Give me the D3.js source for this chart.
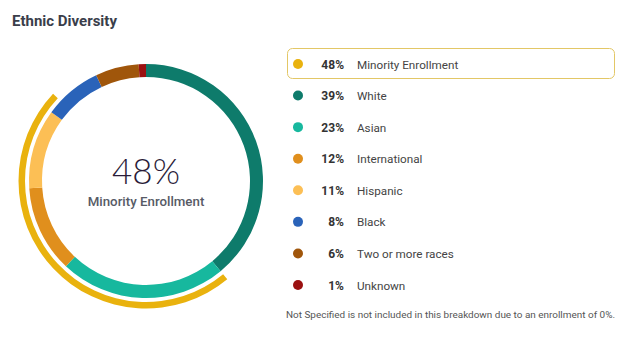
<!DOCTYPE html>
<html><head><meta charset="utf-8">
<script src="https://cdn.jsdelivr.net/npm/d3@7"></script>
<style>
html,body{margin:0;padding:0;background:#fff;}
svg{display:block;font-family:Roboto, "Noto Sans", sans-serif;}
</style></head>
<body>
<svg id="chart" width="640" height="337"></svg>
<script>
const categories = ["White","Asian","International","Hispanic","Black","Two or more races","Unknown"];
const values = [39,23,12,11,8,6,1];
const colors = ["#0e7b6b","#17b89e","#e08f1d","#fcbf55","#2a63b9","#a0560b","#9b1111"];
const minorityLabel = "Minority Enrollment";
const minorityValue = 48;
const minorityColor = "#e9b20e";
const legendLabels = ["Minority Enrollment","White","Asian","International","Hispanic","Black","Two or more races","Unknown"];
const legendValues = [48,39,23,12,11,8,6,1];
const legendColors = [minorityColor].concat(colors);
const footnote = "Not Specified is not included in this breakdown due to an enrollment of 0%.";

const svg = d3.select("#chart");
svg.append("text").attr("x",12).attr("y",26)
  .attr("font-size",15).attr("font-weight",700).attr("fill","#3a3e4a")
  .text("Ethnic Diversity");

const cx = 146, cy = 181;
const g = svg.append("g").attr("transform",`translate(${cx},${cy})`);
const total = d3.sum(values);
const angle = d3.scaleLinear().domain([0,total]).range([0,2*Math.PI]);
const pie = d3.pie().sort(null).value(d=>d)(values);
const arc = d3.arc().innerRadius(104).outerRadius(117);
g.selectAll("path.seg").data(pie).enter().append("path")
  .attr("class","seg").attr("d",arc).attr("fill",(d,i)=>colors[i]);

// minority outer arc
const start = angle(values[0]);
g.append("path")
  .attr("d", d3.arc().innerRadius(121).outerRadius(127.5)({startAngle:start, endAngle:start+angle(minorityValue)}))
  .attr("fill", minorityColor);

g.append("text").attr("x",0).attr("y",3).attr("text-anchor","middle")
  .attr("font-family","Lato, 'Open Sans', sans-serif").attr("font-weight",300)
  .attr("font-size",35).attr("fill","#2a1b38").text(minorityValue+"%");
g.append("text").attr("x",0).attr("y",25).attr("text-anchor","middle")
  .attr("font-size",13.3).attr("font-weight",500).attr("fill","#575b66").text(minorityLabel);

// legend
const y = d3.scalePoint().domain(d3.range(legendLabels.length)).range([64,285]);
svg.append("rect").attr("x",287.5).attr("y",48.5).attr("width",327).attr("height",30)
  .attr("rx",5).attr("fill","none").attr("stroke","#e3c766").attr("stroke-width",1);
const rows = svg.selectAll("g.row").data(legendLabels).enter().append("g").attr("class","row")
  .attr("transform",(d,i)=>`translate(0,${y(i)})`);
rows.append("circle").attr("cx",298).attr("cy",0).attr("r",5).attr("fill",(d,i)=>legendColors[i]);
rows.append("text").attr("x",344).attr("y",4.5).attr("text-anchor","end")
  .attr("font-size",12).attr("font-weight",700).attr("fill","#333")
  .text((d,i)=>legendValues[i]+"%");
rows.append("text").attr("x",357).attr("y",4.5)
  .attr("font-size",11.7).attr("fill","#444").text(d=>d);

svg.append("text").attr("x",286).attr("y",318).attr("font-size",9.95).attr("fill","#555")
  .text(footnote);
</script>
</body></html>
